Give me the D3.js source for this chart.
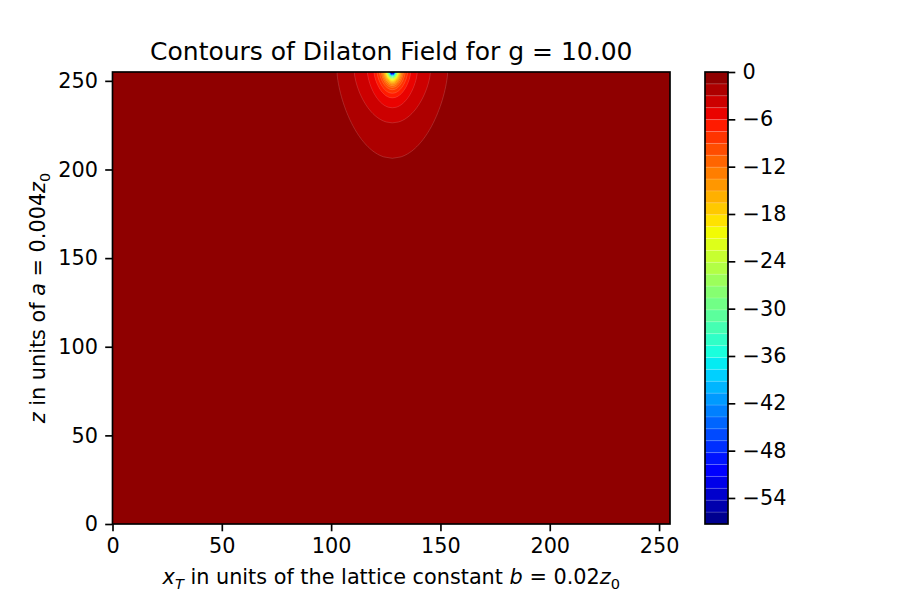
<!DOCTYPE html>
<html lang="en">
<head>
  <meta charset="UTF-8">
  <title>Contours of Dilaton Field</title>
  <script src="https://d3js.org/d3.v7.min.js"></script>
  <style>
    body { margin: 0; background: #fff; }
    svg text { font-family: "DejaVu Sans", sans-serif; fill: #000; }
    .seam { fill: none; stroke: #fff; stroke-opacity: 0.28; stroke-width: 0.6px; }
  </style>
</head>
<body>
  <svg width="900" height="600"></svg>

  <script>
    // lattice extent (grid units) and where the source sits
    const xExtent = [0, 255];
    const zExtent = [0, 255];
    const source = { x: 128, z: 255 };

    // filled contour levels (38 bands)
    const levels = [-57.300, -55.792, -54.284, -52.776, -51.268, -49.760, -48.252, -46.745,
      -45.237, -43.729, -42.221, -40.713, -39.205, -37.697, -36.189, -34.681, -33.174,
      -31.666, -30.158, -28.650, -27.142, -25.634, -24.126, -22.618, -21.110, -19.603,
      -18.095, -16.587, -15.079, -13.571, -12.063, -10.555, -9.047, -7.539, -6.032,
      -4.524, -3.016, -1.508, 0];

    // each contour, outermost first: depth below the top edge and half-width (grid units)
    const contourDepth = [48.7, 28.7, 20.2, 14.6, 12.0, 10.0, 8.7, 7.7, 6.9, 6.2, 5.6, 5.1,
      4.7, 4.3, 4.0, 3.7, 3.45, 3.2, 3.0, 2.8, 2.6, 2.45, 2.3, 2.15, 2.0, 1.9, 1.8, 1.7,
      1.6, 1.5, 1.4, 1.3, 1.2, 1.1, 1.0, 0.85, 0.7];
    const contourHalfWidth = [25.3, 17.4, 11.4, 8.4, 7.0, 5.9, 5.1, 4.6, 4.1, 3.75, 3.4, 3.1,
      2.85, 2.65, 2.45, 2.3, 2.15, 2.0, 1.9, 1.8, 1.68, 1.58, 1.48, 1.4, 1.3, 1.24, 1.18,
      1.1, 1.04, 0.98, 0.92, 0.85, 0.78, 0.72, 0.65, 0.56, 0.46];

    const xTicks = [0, 50, 100, 150, 200, 250];
    const zTicks = [0, 50, 100, 150, 200, 250];
    const cbarTicks = [0, -6, -12, -18, -24, -30, -36, -42, -48, -54];

    const contourLevels = levels.slice(1, -1).reverse();
    const step = levels[1] - levels[0];

    // matplotlib "jet"
    const jetR = d3.scaleLinear().domain([0, 0.35, 0.66, 0.89, 1]).range([0, 0, 1, 1, 0.5]).clamp(true);
    const jetG = d3.scaleLinear().domain([0, 0.125, 0.375, 0.64, 0.91, 1]).range([0, 0, 1, 1, 0, 0]).clamp(true);
    const jetB = d3.scaleLinear().domain([0, 0.11, 0.34, 0.65, 1]).range([0.5, 1, 1, 0, 0]).clamp(true);
    const jet = t => d3.rgb(255 * jetR(t), 255 * jetG(t), 255 * jetB(t)).formatHex();
    const norm = d3.scaleLinear().domain([levels[0], levels[levels.length - 1]]).range([0, 1]);
    const bandColor = (lo, hi) => jet(norm((lo + hi) / 2));

    const svg = d3.select("svg");
    const plot = { left: 112.5, right: 670, top: 72, bottom: 524 };
    const cbar = { left: 705, right: 728 };
    const fs = 20.8, tick = 7.3, pad = 7.3, lw = 1.67;

    const x = d3.scaleLinear().domain(xExtent).range([plot.left, plot.right]);
    const y = d3.scaleLinear().domain(zExtent).range([plot.bottom, plot.top]);

    svg.append("clipPath").attr("id", "clip")
      .append("rect")
      .attr("x", plot.left).attr("y", plot.top)
      .attr("width", plot.right - plot.left).attr("height", plot.bottom - plot.top);

    const field = svg.append("g").attr("clip-path", "url(#clip)");

    // background band (just below 0)
    field.append("rect")
      .attr("x", plot.left).attr("y", plot.top)
      .attr("width", plot.right - plot.left).attr("height", plot.bottom - plot.top)
      .attr("fill", bandColor(levels[levels.length - 2], levels[levels.length - 1]));

    // U-shaped contour: (dx/w)^2 + (dz/D)^1.5 = 1, hanging from the top edge
    const line = d3.line().x(p => x(p[0])).y(p => y(p[1]));
    function contourPoints(w, D) {
      const n = 60, pts = [];
      for (let i = 0; i <= n; i++) {
        const s = i / n;                       // 0 at top-left, 1 at bottom
        const dz = D * s;
        pts.push([source.x - w * Math.sqrt(Math.max(0, 1 - Math.pow(s, 1.5))), source.z - dz]);
      }
      for (let i = n - 1; i >= 0; i--) {
        const s = i / n;
        pts.push([source.x + w * Math.sqrt(Math.max(0, 1 - Math.pow(s, 1.5))), source.z - D * s]);
      }
      return pts;
    }

    field.selectAll("path.contour")
      .data(contourLevels)
      .enter().append("path")
      .attr("class", "contour")
      .attr("d", (d, i) => line(contourPoints(contourHalfWidth[i], contourDepth[i])) + "Z")
      .attr("fill", d => bandColor(d - step, d))
      .attr("stroke", "#fff")
      .attr("stroke-opacity", 0.25)
      .attr("stroke-width", 0.6);

    // axes
    function styleAxis(g) {
      g.select(".domain").remove();
      g.selectAll(".tick line").attr("stroke", "#000").attr("stroke-width", lw);
      g.selectAll(".tick text").attr("font-size", fs).attr("font-family", "DejaVu Sans");
    }

    svg.append("g")
      .attr("transform", `translate(0,${plot.bottom})`)
      .call(d3.axisBottom(x).tickValues(xTicks).tickSize(tick).tickPadding(pad).tickFormat(d3.format("d")))
      .call(styleAxis);

    svg.append("g")
      .attr("transform", `translate(${plot.left},0)`)
      .call(d3.axisLeft(y).tickValues(zTicks).tickSize(tick).tickPadding(pad).tickFormat(d3.format("d")))
      .call(styleAxis);

    svg.append("rect")
      .attr("x", plot.left).attr("y", plot.top)
      .attr("width", plot.right - plot.left).attr("height", plot.bottom - plot.top)
      .attr("fill", "none").attr("stroke", "#000").attr("stroke-width", lw);

    // colorbar
    const yc = d3.scaleLinear().domain([levels[0], levels[levels.length - 1]]).range([plot.bottom, plot.top]);
    const bands = d3.pairs(levels);
    svg.append("g").selectAll("rect")
      .data(bands)
      .enter().append("rect")
      .attr("x", cbar.left)
      .attr("width", cbar.right - cbar.left)
      .attr("y", d => yc(d[1]))
      .attr("height", d => yc(d[0]) - yc(d[1]))
      .attr("fill", d => bandColor(d[0], d[1]));

    svg.append("g").selectAll("line")
      .data(levels.slice(1, -1))
      .enter().append("line")
      .attr("class", "seam")
      .attr("x1", cbar.left).attr("x2", cbar.right)
      .attr("y1", d => yc(d)).attr("y2", d => yc(d));

    svg.append("rect")
      .attr("x", cbar.left).attr("y", plot.top)
      .attr("width", cbar.right - cbar.left).attr("height", plot.bottom - plot.top)
      .attr("fill", "none").attr("stroke", "#000").attr("stroke-width", lw);

    svg.append("g")
      .attr("transform", `translate(${cbar.right},0)`)
      .call(d3.axisRight(yc).tickValues(cbarTicks).tickSize(tick).tickPadding(pad).tickFormat(d3.format("d")))
      .call(styleAxis);

    // title
    svg.append("text")
      .attr("x", (plot.left + plot.right) / 2)
      .attr("y", 59.5)
      .attr("text-anchor", "middle")
      .attr("font-size", 25)
      .text("Contours of Dilaton Field for g = 10.00");

    // labels with italic math and subscripts
    function richText(sel, parts) {
      let shift = 0;
      parts.forEach(p => {
        const t = sel.append("tspan").text(p.t);
        if (p.it) t.attr("font-style", "italic");
        const want = p.sub ? 5 : 0;
        if (want !== shift) { t.attr("dy", want - shift); shift = want; }
        if (p.sub) t.attr("font-size", fs * 0.7);
      });
    }

    const xl = svg.append("text")
      .attr("x", (plot.left + plot.right) / 2)
      .attr("y", 584)
      .attr("text-anchor", "middle")
      .attr("font-size", fs);
    richText(xl, [
      { t: "x", it: true }, { t: "T", it: true, sub: true },
      { t: " in units of the lattice constant " }, { t: "b", it: true },
      { t: " = 0.02" }, { t: "z", it: true }, { t: "0", sub: true }
    ]);

    const yl = svg.append("text")
      .attr("transform", `translate(45,${(plot.top + plot.bottom) / 2}) rotate(-90)`)
      .attr("text-anchor", "middle")
      .attr("font-size", fs);
    richText(yl, [
      { t: "z", it: true }, { t: " in units of " }, { t: "a", it: true },
      { t: " = 0.004" }, { t: "z", it: true }, { t: "0", sub: true }
    ]);
  </script>
</body>
</html>
